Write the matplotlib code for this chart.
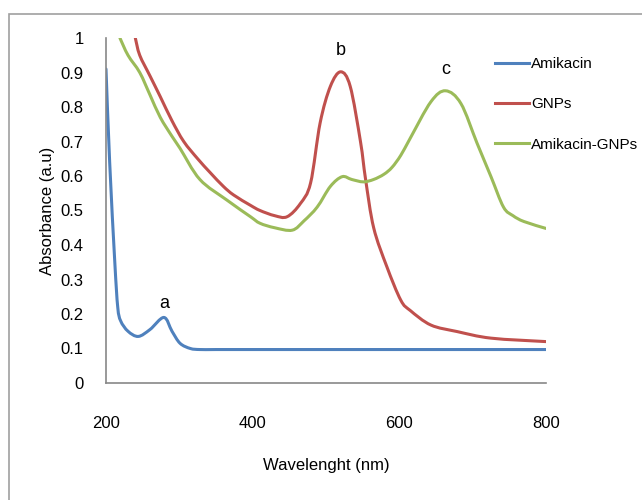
import matplotlib
matplotlib.use("Agg")
import matplotlib.pyplot as plt
import numpy as np
from matplotlib.patches import Rectangle, PathPatch
from matplotlib.path import Path
from matplotlib.lines import Line2D

plt.rcParams['font.family'] = ['Liberation Sans', 'DejaVu Sans']

# Amikacin
wl_amik = [200, 205, 212, 216, 220, 230, 244, 260, 279, 290, 301, 315, 328, 350, 400, 500, 600, 700, 800]
abs_amik = [0.91, 0.64, 0.35, 0.22, 0.18, 0.15, 0.135, 0.155, 0.19, 0.15, 0.115, 0.10, 0.097, 0.097, 0.097, 0.097, 0.097, 0.097, 0.097]

# GNPs
wl_gnp = [240, 246, 260, 274, 290, 306, 325, 342, 360, 374, 397, 410, 430, 447, 465, 479, 492, 506, 520,
          533, 547, 554, 565, 583, 602, 615, 643, 679, 725, 800]
abs_gnp = [1.00, 0.95, 0.89, 0.83, 0.76, 0.70, 0.65, 0.61, 0.57, 0.545, 0.515, 0.50, 0.485, 0.482, 0.52, 0.58,
           0.754, 0.86, 0.902, 0.86, 0.70, 0.59, 0.45, 0.337, 0.24, 0.21, 0.168, 0.149, 0.13, 0.12]

# Amikacin-GNPs
wl_mix = [219, 230, 246, 260, 274, 290, 301, 328, 365, 397, 410, 430, 454, 470, 488, 506, 522, 535, 551,
          565, 579, 590, 602, 615, 643, 663, 684, 706, 725, 742, 755, 770, 800]
abs_mix = [1.00, 0.95, 0.90, 0.835, 0.77, 0.715, 0.68, 0.59, 0.53, 0.482, 0.463, 0.45, 0.443, 0.47, 0.51,
           0.57, 0.598, 0.59, 0.583, 0.59, 0.605, 0.625, 0.66, 0.71, 0.815, 0.847, 0.81, 0.695, 0.598,
           0.51, 0.485, 0.468, 0.448]

series_names = ["Amikacin", "GNPs", "Amikacin-GNPs"]
colors = ["#4F81BD", "#C0504D", "#9BBB59"]

x_ticks = [200, 400, 600, 800]
y_ticks = [0, 0.1, 0.2, 0.3, 0.4, 0.5, 0.6, 0.7, 0.8, 0.9, 1]
y_ticklabels = ["0", "0.1", "0.2", "0.3", "0.4", "0.5", "0.6", "0.7", "0.8", "0.9", "1"]

peak_labels = [("a", 279, 0.23), ("b", 520, 0.965), ("c", 663, 0.91)]


def smooth_path(xs, ys):
    """Excel-like smoothed line: cubic Bezier segments through the data points."""
    p = np.column_stack([xs, ys]).astype(float)
    n = len(p)
    verts = [p[0]]
    codes = [Path.MOVETO]
    for i in range(n - 1):
        p0 = p[i - 1] if i > 0 else p[i]
        p1 = p[i]
        p2 = p[i + 1]
        p3 = p[i + 2] if i + 2 < n else p[i + 1]
        c1 = p1 + (p2 - p0) / 6.0
        c2 = p2 - (p3 - p1) / 6.0
        verts += [c1, c2, p2]
        codes += [Path.CURVE4] * 3
    return Path(verts, codes)


fig = plt.figure(figsize=(6.42, 5.0), dpi=100)
fig.patches.append(Rectangle((8.5 / 642, -0.1), 1.2, (500 - 14) / 500 + 0.1, transform=fig.transFigure,
                             fill=False, edgecolor="#A0A0A0", linewidth=1.2))
ax = fig.add_axes([106 / 642, (500 - 383) / 500, (546 - 106) / 642, (383 - 38) / 500])

handles = []
for wl, ab, name, c in zip([wl_amik, wl_gnp, wl_mix], [abs_amik, abs_gnp, abs_mix], series_names, colors):
    patch = PathPatch(smooth_path(wl, ab), fill=False, edgecolor=c, linewidth=2.2, capstyle='round',
                      joinstyle='round')
    patch.set_clip_on(True)
    ax.add_patch(patch)
    handles.append(Line2D([], [], color=c, linewidth=2.2, label=name))

ax.set_xlim(200, 800)
ax.set_ylim(0, 1)
ax.set_xticks(x_ticks)
ax.set_xticklabels([str(t) for t in x_ticks])
ax.set_yticks(y_ticks)
ax.set_yticklabels(y_ticklabels)
ax.tick_params(length=0, labelsize=12, colors="black")
ax.tick_params(axis='x', pad=24)
ax.tick_params(axis='y', pad=16)
for s in ["top", "right"]:
    ax.spines[s].set_visible(False)
for s in ["left", "bottom"]:
    ax.spines[s].set_color("#888888")
    ax.spines[s].set_linewidth(1.2)

ax.set_xlabel("Wavelenght (nm)", fontsize=12, labelpad=19)
ax.set_ylabel("Absorbance (a.u)", fontsize=12, labelpad=4)

for t, x, y in peak_labels:
    ax.text(x, y, t, fontsize=13, ha="center", va="center")

ax.legend(handles=handles, loc="upper left", bbox_to_anchor=(489 / 642, (500 - 51) / 500),
          bbox_transform=fig.transFigure, frameon=False, fontsize=11, handlelength=2.2,
          handletextpad=0.15, labelspacing=1.72, borderaxespad=0)

fig.savefig("out.png", dpi=100)
